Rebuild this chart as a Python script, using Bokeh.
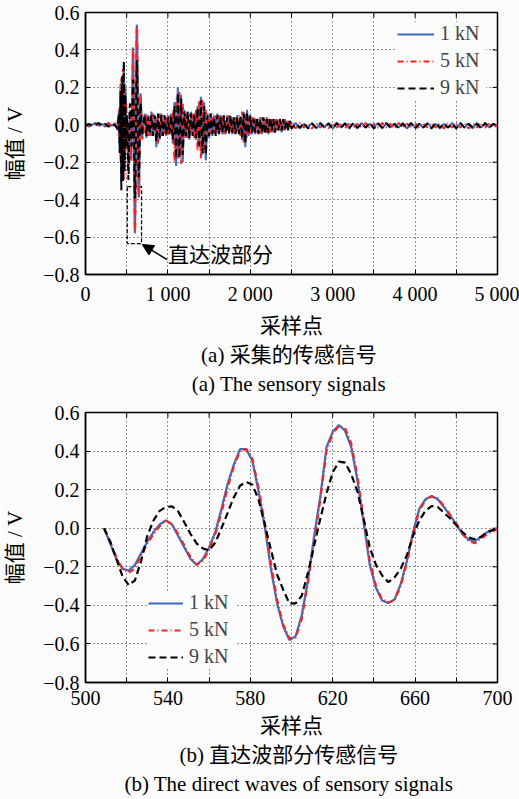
import math
from bokeh.plotting import figure
from bokeh.layouts import column
from bokeh.models import Range1d, FixedTicker, Label, Arrow, NormalHead
from bokeh.embed import file_html
from bokeh.resources import INLINE

FONT = "Liberation Serif, Noto Sans CJK SC"
BLUE = "#3a6cc0"
RED = "#ff2222"
BLACK = "#000000"
BG = "#fbfbfb"

series_names = ["1 kN", "5 kN", "9 kN"]

# ---------- y axis ticks (shared) ----------
y_ticks = [-0.8, -0.6, -0.4, -0.2, 0.0, 0.2, 0.4, 0.6]
y_tick_labels = ["\u22120.8", "\u22120.6", "\u22120.4", "\u22120.2", "0.0", "0.2", "0.4", "0.6"]

# ---------- (a) full record ----------
top_x_ticks = [0, 1000, 2000, 3000, 4000, 5000]
top_x_labels = ["0", "1 000", "2 000", "3 000", "4 000", "5 000"]
top_x_minor = [500, 1500, 2500, 3500, 4500]
top_texts = ["采样点", "(a)  采集的传感信号", "(a)  The sensory signals"]

# ---------- (b) direct waves ----------
bot_x_ticks = [500, 540, 580, 620, 660, 700]
bot_x_labels = ["500", "540", "580", "620", "660", "700"]
bot_x_minor = [520, 560, 600, 640, 680]
bot_texts = ["采样点", "(b)  直达波部分传感信号", "(b)  The direct waves of sensory signals"]

direct_x = [509, 512, 515, 518, 521, 524, 527, 530, 533, 536, 539, 542, 545, 548, 551, 554,
            557, 560, 563, 566, 569, 572, 575, 578, 581, 584, 587, 590, 593, 596, 599, 602,
            605, 608, 611, 614, 617, 620, 623, 626, 629, 632, 635, 638, 641, 644, 647, 650,
            653, 656, 659, 662, 665, 668, 671, 674, 677, 680, 683, 686, 689, 692, 695, 698, 700]
direct_1kN = [0.00, -0.08, -0.16, -0.21, -0.22, -0.19, -0.13, -0.07, -0.02, 0.02, 0.04, 0.02,
              -0.04, -0.10, -0.16, -0.19, -0.16, -0.10, -0.02, 0.10, 0.23, 0.33, 0.41, 0.41,
              0.35, 0.19, 0.01, -0.21, -0.39, -0.51, -0.58, -0.56, -0.45, -0.27, -0.04, 0.165,
              0.42, 0.50, 0.535, 0.505, 0.42, 0.25, 0.03, -0.19, -0.31, -0.375, -0.388, -0.37,
              -0.29, -0.17, -0.02, 0.10, 0.15, 0.167, 0.15, 0.11, 0.065, 0.02, -0.03, -0.06,
              -0.067, -0.045, -0.02, -0.01, 0.00]
direct_5kN = [0.00, -0.07, -0.15, -0.21, -0.23, -0.21, -0.14, -0.08, -0.03, 0.01, 0.04, 0.02,
              -0.03, -0.09, -0.15, -0.19, -0.17, -0.11, -0.03, 0.08, 0.21, 0.32, 0.40, 0.41,
              0.36, 0.21, 0.03, -0.18, -0.37, -0.50, -0.57, -0.57, -0.47, -0.28, -0.07, 0.15,
              0.40, 0.49, 0.53, 0.52, 0.44, 0.27, 0.05, -0.17, -0.30, -0.37, -0.385, -0.375,
              -0.30, -0.18, -0.03, 0.09, 0.145, 0.165, 0.155, 0.115, 0.07, 0.025, -0.03, -0.065,
              -0.078, -0.055, -0.03, -0.015, -0.005]
direct_9kN = [0.00, -0.07, -0.16, -0.25, -0.295, -0.27, -0.17, -0.04, 0.04, 0.09, 0.11, 0.113,
              0.087, 0.03, -0.03, -0.08, -0.105, -0.115, -0.075, 0.00, 0.08, 0.16, 0.22, 0.24,
              0.225, 0.15, 0.02, -0.11, -0.24, -0.32, -0.39, -0.39, -0.35, -0.23, -0.09, 0.05,
              0.18, 0.29, 0.345, 0.34, 0.28, 0.19, 0.05, -0.10, -0.19, -0.245, -0.28, -0.255,
              -0.21, -0.14, -0.04, 0.04, 0.09, 0.115, 0.11, 0.08, 0.05, 0.015, -0.02, -0.048,
              -0.057, -0.045, -0.02, -0.008, 0.00]

# record before the direct waves
pre_x = [0, 40, 80, 120, 160, 200, 240, 280, 320, 360, 390, 405, 415, 425, 435, 445, 455,
         465, 475, 485, 495, 502]
pre_1kN = [0.005, -0.01, 0.0, 0.01, -0.005, 0.005, -0.01, 0.005, -0.005, 0.01, -0.03, 0.08,
           -0.12, 0.22, -0.30, 0.18, -0.25, 0.32, -0.20, 0.20, -0.10, 0.05]
pre_5kN = [0.0, -0.005, 0.01, -0.005, 0.005, -0.01, 0.0, 0.01, -0.005, 0.005, 0.02, -0.06,
           0.10, -0.20, 0.25, -0.28, 0.30, -0.30, 0.22, -0.15, 0.12, -0.04]
pre_9kN = [-0.005, 0.005, -0.005, 0.0, 0.01, -0.005, 0.005, -0.01, 0.005, -0.005, -0.02, 0.06,
           -0.15, 0.18, -0.35, 0.26, -0.30, 0.34, -0.25, 0.16, -0.12, 0.05]

# record after the direct waves (every 20 samples, 720 .. 2500)
post_x = [720, 740, 760, 780, 800, 820, 840, 860, 880, 900,
          920, 940, 960, 980, 1000, 1020, 1040, 1060, 1080, 1100,
          1120, 1140, 1160, 1180, 1200, 1220, 1240, 1260, 1280, 1300,
          1320, 1340, 1360, 1380, 1400, 1420, 1440, 1460, 1480, 1500,
          1520, 1540, 1560, 1580, 1600, 1620, 1640, 1660, 1680, 1700,
          1720, 1740, 1760, 1780, 1800, 1820, 1840, 1860, 1880, 1900,
          1920, 1940, 1960, 1980, 2000, 2020, 2040, 2060, 2080, 2100,
          2120, 2140, 2160, 2180, 2200, 2220, 2240, 2260, 2280, 2300,
          2320, 2340, 2360, 2380, 2400, 2420, 2440, 2460, 2480, 2500]
post_1kN = [0.06, -0.07, 0.05, -0.06, 0.07, -0.05, 0.04, -0.12, 0.05, -0.08,
            0.06, -0.05, 0.04, -0.06, 0.05, -0.04, 0.06, -0.10, 0.12, -0.22,
            0.20, -0.15, 0.16, -0.20, 0.08, -0.07, 0.06, -0.08, 0.07, -0.05,
            0.06, -0.08, 0.10, -0.12, 0.15, -0.16, 0.12, -0.19, 0.06, -0.07,
            0.05, -0.06, 0.05, -0.05, 0.06, -0.04, 0.05, -0.05, 0.04, -0.05,
            0.05, -0.04, 0.04, -0.05, 0.04, -0.04, 0.05, -0.04, 0.04, -0.08,
            0.07, -0.12, 0.08, -0.06, 0.04, -0.05, 0.04, -0.05, 0.03, -0.04,
            0.04, -0.05, 0.03, -0.04, 0.04, -0.05, 0.03, -0.04, 0.03, -0.04,
            0.03, -0.03, 0.03, -0.04, 0.02, -0.03, 0.02, -0.03, 0.02, -0.02]
post_5kN = [-0.05, 0.06, -0.06, 0.05, -0.06, 0.06, -0.05, 0.04, -0.10, 0.06,
            -0.06, 0.05, -0.05, 0.04, -0.06, 0.05, -0.05, 0.08, -0.20, 0.14,
            -0.18, 0.18, -0.21, 0.12, -0.07, 0.06, -0.07, 0.06, -0.05, 0.06,
            -0.07, 0.08, -0.14, 0.13, -0.18, 0.14, -0.15, 0.08, -0.06, 0.05,
            -0.05, 0.06, -0.04, 0.05, -0.05, 0.05, -0.04, 0.05, -0.05, 0.04,
            -0.04, 0.05, -0.04, 0.04, -0.05, 0.04, -0.04, 0.05, -0.06, 0.07,
            -0.10, 0.06, -0.07, 0.05, -0.05, 0.04, -0.04, 0.04, -0.04, 0.03,
            -0.05, 0.04, -0.04, 0.03, -0.05, 0.04, -0.04, 0.03, -0.04, 0.03,
            -0.03, 0.03, -0.03, 0.02, -0.03, 0.03, -0.02, 0.02, -0.02, 0.02]
post_9kN = [0.05, -0.06, 0.04, -0.05, 0.05, -0.06, 0.05, -0.09, 0.06, -0.07,
            0.05, -0.06, 0.05, -0.05, 0.04, -0.05, 0.05, -0.08, 0.10, -0.18,
            0.17, -0.18, 0.14, -0.16, 0.07, -0.06, 0.07, -0.07, 0.06, -0.06,
            0.05, -0.07, 0.09, -0.11, 0.13, -0.15, 0.10, -0.16, 0.05, -0.06,
            0.06, -0.05, 0.04, -0.06, 0.05, -0.05, 0.04, -0.04, 0.05, -0.04,
            0.04, -0.05, 0.05, -0.04, 0.04, -0.05, 0.04, -0.05, 0.05, -0.07,
            0.06, -0.10, 0.07, -0.05, 0.05, -0.04, 0.03, -0.04, 0.04, -0.05,
            0.03, -0.04, 0.04, -0.05, 0.03, -0.04, 0.04, -0.03, 0.03, -0.04,
            0.02, -0.03, 0.03, -0.03, 0.03, -0.02, 0.02, -0.03, 0.02, -0.02]

# quiet tail (every 50 samples, 2550 .. 5000)
tail_x = [2550, 2600, 2650, 2700, 2750, 2800, 2850, 2900, 2950, 3000,
          3050, 3100, 3150, 3200, 3250, 3300, 3350, 3400, 3450, 3500,
          3550, 3600, 3650, 3700, 3750, 3800, 3850, 3900, 3950, 4000,
          4050, 4100, 4150, 4200, 4250, 4300, 4350, 4400, 4450, 4500,
          4550, 4600, 4650, 4700, 4750, 4800, 4850, 4900, 4950, 5000]
tail_1kN = [0.01, -0.02, 0.005, -0.015, 0.01, -0.02, 0.005, -0.015, 0.01, -0.02,
            0.005, -0.015, 0.01, -0.015, 0.005, -0.02, 0.01, -0.015, 0.005, -0.015,
            0.01, -0.02, 0.005, -0.015, 0.005, -0.015, 0.01, -0.02, 0.005, -0.015,
            0.005, -0.015, 0.01, -0.015, 0.005, -0.02, 0.005, -0.015, 0.01, -0.015,
            0.005, -0.015, 0.005, -0.02, 0.01, -0.015, 0.005, -0.015, 0.005, -0.01]
tail_5kN = [-0.02, 0.01, -0.015, 0.005, -0.02, 0.01, -0.015, 0.005, -0.02, 0.01,
            -0.015, 0.005, -0.02, 0.01, -0.015, 0.005, -0.015, 0.01, -0.02, 0.005,
            -0.015, 0.01, -0.015, 0.005, -0.02, 0.01, -0.015, 0.005, -0.015, 0.01,
            -0.02, 0.005, -0.015, 0.01, -0.015, 0.005, -0.02, 0.01, -0.015, 0.005,
            -0.015, 0.01, -0.02, 0.005, -0.015, 0.01, -0.015, 0.005, -0.015, 0.0]
tail_9kN = [0.005, -0.015, 0.01, -0.02, 0.005, -0.015, 0.01, -0.015, 0.005, -0.02,
            0.01, -0.015, 0.005, -0.02, 0.01, -0.015, 0.005, -0.015, 0.01, -0.02,
            0.005, -0.015, 0.01, -0.015, 0.005, -0.02, 0.005, -0.015, 0.01, -0.02,
            0.005, -0.015, 0.005, -0.02, 0.01, -0.015, 0.005, -0.015, 0.005, -0.02,
            0.01, -0.015, 0.005, -0.015, 0.005, -0.02, 0.01, -0.015, 0.005, -0.005]

# dashed box marking the direct waves, and the call-out
box_x = [507, 680]
box_y = [-0.635, -0.33]


def style(p, xticks, xlabels, xminor, xmax, texts):
    p.background_fill_color = BG
    p.border_fill_color = BG
    p.outline_line_color = "black"
    p.outline_line_width = 1.5
    p.outline_line_alpha = 1.0
    for ax, ticks, labels, minor, standoff in ((p.xaxis[0], xticks, xlabels, xminor, 8),
                                               (p.yaxis[0], y_ticks, y_tick_labels, [], 6)):
        ax.ticker = FixedTicker(ticks=ticks, minor_ticks=minor)
        ax.major_label_overrides = dict(zip(ticks, labels))
        ax.major_label_text_font = "Liberation Serif"
        ax.major_label_text_font_size = "20px"
        ax.major_label_text_color = "black"
        ax.major_label_standoff = standoff
        ax.major_tick_in = 5
        ax.major_tick_out = 0
        ax.minor_tick_in = 5
        ax.minor_tick_out = 0
        ax.major_tick_line_color = "black"
        ax.minor_tick_line_color = "black"
        ax.axis_line_color = "black"
        ax.axis_line_width = 1.5
        ax.axis_label_text_font = FONT
        ax.axis_label_text_font_size = "21px"
        ax.axis_label_text_font_style = "normal"
        ax.axis_label_text_color = "black"
    # x title and the two caption lines share one centred label block
    p.xaxis[0].axis_label = "\n".join(texts)
    p.xaxis[0].axis_label_text_line_height = 1.22
    p.xaxis[0].axis_label_standoff = 6
    p.yaxis[0].axis_label = "幅值 / V"
    p.yaxis[0].axis_label_standoff = 13
    p.xgrid.ticker = FixedTicker(ticks=xticks, minor_ticks=xminor)
    p.ygrid.ticker = FixedTicker(ticks=y_ticks)
    for g in (p.xgrid[0], p.ygrid[0]):
        g.grid_line_color = "black"
        g.grid_line_dash = "1 3"
        g.grid_line_width = 1
        g.grid_line_alpha = 0.85
    p.xgrid[0].minor_grid_line_color = "black"
    p.xgrid[0].minor_grid_line_dash = "1 3"
    p.xgrid[0].minor_grid_line_alpha = 0.85
    # tick marks on the top and right edges of the box
    p.scatter(xticks + xminor, [y_ticks[-1]] * (len(xticks) + len(xminor)), marker="dash",
              size=10, angle=math.pi / 2, line_color="black", line_width=1)
    p.scatter([xmax] * len(y_ticks), y_ticks, marker="dash", size=10,
              line_color="black", line_width=1)


styles = [(BLUE, "solid"), (RED, "6 3 1 3"), (BLACK, "7 4")]


def legend_style(lg, loc, glyph_w, spacing):
    lg.location = loc
    lg.margin = 0
    lg.padding = 8
    lg.spacing = spacing
    lg.label_height = 22
    lg.glyph_height = 22
    lg.glyph_width = glyph_w
    lg.label_standoff = 6
    lg.label_width = 46
    lg.label_text_font = "Liberation Serif"
    lg.label_text_font_size = "20px"
    lg.background_fill_color = BG
    lg.background_fill_alpha = 1.0
    lg.border_line_color = None


# ================= figure (a) =================
p1 = figure(width=519, height=399, output_backend="svg", toolbar_location=None,
            x_range=Range1d(0, 5000), y_range=Range1d(-0.8, 0.6),
            min_border_left=83, min_border_right=22, min_border_top=12, min_border_bottom=117)
style(p1, top_x_ticks, top_x_labels, top_x_minor, 5000, top_texts)

p1.quad(left=[box_x[0]], right=[box_x[1]], bottom=[box_y[0]], top=[box_y[1]],
        fill_alpha=0, line_color="black", line_dash="4 2", line_width=1.2)

top_x = pre_x + direct_x + post_x + tail_x
top_series = [pre_1kN + direct_1kN + post_1kN + tail_1kN,
              pre_5kN + direct_5kN + post_5kN + tail_5kN,
              pre_9kN + direct_9kN + post_9kN + tail_9kN]
for ys, (c, d), name in zip(top_series, styles, series_names):
    p1.line(top_x, ys, line_color=c, line_dash=d, line_width=2.0, legend_label=name)

legend_style(p1.legend[0], (312, 175), 37, 4)

p1.add_layout(Arrow(end=NormalHead(size=11, fill_color="black", line_color="black"),
                    x_start=990, y_start=-0.72, x_end=690, y_end=-0.64,
                    line_color="black", line_width=1.5))
p1.add_layout(Label(x=1000, y=-0.697, text="直达波部分", text_font=FONT, text_font_size="21px",
                    text_align="left", text_baseline="middle", text_color="black"))

# ================= figure (b) =================
p2 = figure(width=519, height=400, output_backend="svg", toolbar_location=None,
            x_range=Range1d(500, 700), y_range=Range1d(-0.8, 0.6),
            min_border_left=82, min_border_right=22, min_border_top=13, min_border_bottom=117)
style(p2, bot_x_ticks, bot_x_labels, bot_x_minor, 700, bot_texts)

for ys, (c, d), name in zip([direct_1kN, direct_5kN, direct_9kN], styles, series_names):
    p2.line(direct_x, ys, line_color=c, line_dash=d, line_width=2.2, legend_label=name)

legend_style(p2.legend[0], (63, 14), 35, 4)

layout = column(p1, p2, spacing=0)
open("out.html", "w").write(file_html(layout, INLINE))
